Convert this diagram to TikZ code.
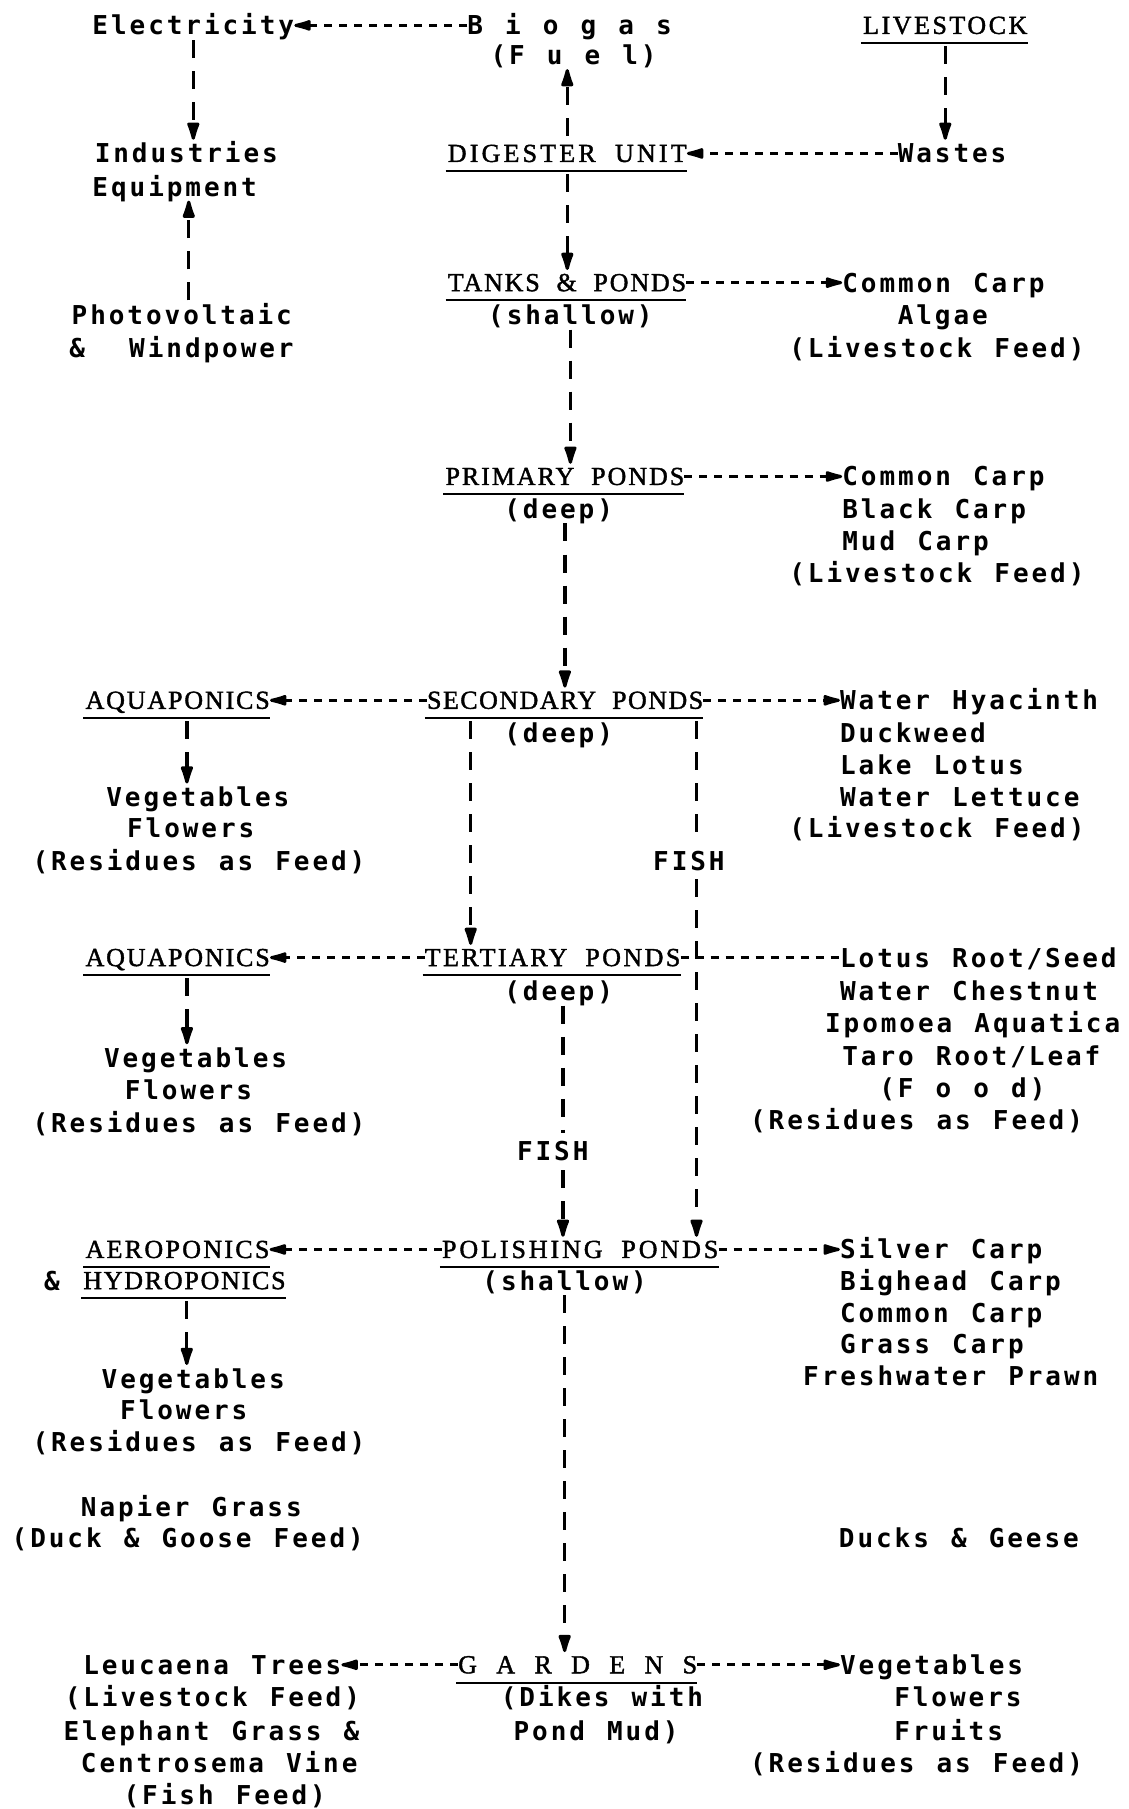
\documentclass[tikz,border=0pt]{standalone}
\usepackage{fontspec}
\usetikzlibrary{arrows.meta,calc}
\newfontfamily\bodyfont[LetterSpace=11.3,WordSpace=1.188]{DejaVu Sans Mono}
\newfontfamily\headfont[WordSpace=2.0,FakeBold=1.5]{Liberation Serif}
\newcommand\headtxt[2]{{\addfontfeature{LetterSpace=#1}#2}}
\begin{document}
\begin{tikzpicture}[x=1.1534pt,y=-1.1534pt,
  bt/.style={font=\bodyfont\bfseries\fontsize{26}{30}\selectfont,inner sep=0pt,anchor=west,text height=19pt,text depth=0pt},
  ht/.style={font=\headfont\fontsize{26}{30}\selectfont,inner sep=0pt,anchor=west,text height=17pt,text depth=0pt},
  hl/.style={line width=3pt,dash pattern=on 8pt off 7pt},
  vl/.style={line width=3.2pt,dash pattern=on 18pt off 13pt,shorten <=5pt,shorten >=4pt},
  ha/.style={-{Latex[length=24pt,width=12pt,round]}},
  va/.style={-{Latex[length=24pt,width=14pt,round]}},
  ul/.style={line width=2pt}]
\fill[white] (0,0) rectangle (978,1568);
\useasboundingbox (0,0) rectangle (978,1568);
% top
\node[bt] (elec) at (80,22) {Electricity};
\node[bt] (bio) at (405,22) {B i o g a s};
\node[bt] (fuel) at (425,48) {(F u e l)};
\node[ht] (live) at (748,22) {\headtxt{9.7}{LIVESTOCK}};
\node[bt] (ind) at (82,133) {Industries};
\node[bt] (equip) at (80,162) {Equipment};
\node[ht] (dig) at (388,133) {\headtxt{12.2}{DIGESTER UNIT}};
\node[bt] (waste) at (778,133) {Wastes};
\node[ht] (tanks) at (388,245) {\headtxt{7.1}{TANKS \& PONDS}};
\node[bt] (cc1) at (730,245) {Common Carp};
\node[bt] (shal1) at (423,273) {(shallow)};
\node[bt] (algae) at (778,273) {Algae};
\node[bt] (pv) at (62,273) {Photovoltaic};
\node[bt] (wind) at (60,302) {\&\ \ Windpower};
\node[bt] (lf1) at (684,302) {(Livestock Feed)};
% primary
\node[ht] (prim) at (386,413) {\headtxt{7.5}{PRIMARY PONDS}};
\node[bt] (cc2) at (730,413) {Common Carp};
\node[bt] (deep1) at (437,441) {(deep)};
\node[bt] (black) at (730,441) {Black Carp};
\node[bt] (mud) at (730,469) {Mud Carp};
\node[bt] (lf2) at (684,497) {(Livestock Feed)};
% secondary
\node[ht] (aqua1) at (74,607) {\headtxt{7.1}{AQUAPONICS}};
\node[ht] (sec) at (370,607) {\headtxt{5.6}{SECONDARY PONDS}};
\node[bt] (wh) at (728,607) {Water Hyacinth};
\node[bt] (sdeep) at (437,635) {(deep)};
\node[bt] (duck) at (728,635) {Duckweed};
\node[bt] (lake) at (728,663) {Lake Lotus};
\node[bt] (lett) at (728,691) {Water Lettuce};
\node[bt] (lf3) at (684,718) {(Livestock Feed)};
\node[bt] (veg1) at (92,691) {Vegetables};
\node[bt] (fl1) at (110,718) {Flowers};
\node[bt] (res1) at (28,746) {(Residues as Feed)};
\node[bt] (fish1) at (566,746) {FISH};
% tertiary
\node[ht] (aqua2) at (74,830) {\headtxt{7.1}{AQUAPONICS}};
\node[ht] (ter) at (368,830) {\headtxt{9.4}{TERTIARY PONDS}};
\node[bt] (lotus) at (728,830) {Lotus Root/Seed};
\node[bt] (tdeep) at (437,859) {(deep)};
\node[bt] (chest) at (728,859) {Water Chestnut};
\node[bt] (ipo) at (715,887) {Ipomoea Aquatica};
\node[bt] (taro) at (730,915) {Taro Root/Leaf};
\node[bt] (food) at (762,943) {(F o o d)};
\node[bt] (res2) at (650,971) {(Residues as Feed)};
\node[bt] (veg2) at (90,917) {Vegetables};
\node[bt] (fl2) at (108,945) {Flowers};
\node[bt] (res2l) at (28,973) {(Residues as Feed)};
\node[bt] (fish2) at (448,998) {FISH};
% polishing
\node[ht] (aero) at (74,1083) {\headtxt{8.8}{AEROPONICS}};
\node[ht] (pol) at (383,1083) {\headtxt{11.2}{POLISHING PONDS}};
\node[bt] (silver) at (728,1083) {Silver Carp};
\node[bt] (amp) at (38,1110) {\&};
\node[ht] (hydro) at (72,1110) {\headtxt{6.7}{HYDROPONICS}};
\node[bt] (shal3) at (418,1110) {(shallow)};
\node[bt] (big) at (728,1110) {Bighead Carp};
\node[bt] (cc3) at (728,1138) {Common Carp};
\node[bt] (grass) at (728,1165) {Grass Carp};
\node[bt] (prawn) at (696,1193) {Freshwater Prawn};
\node[bt] (veg3) at (88,1195) {Vegetables};
\node[bt] (fl3) at (104,1222) {Flowers};
\node[bt] (res3) at (28,1250) {(Residues as Feed)};
\node[bt] (napier) at (70,1306) {Napier Grass};
\node[bt] (dgf) at (10,1333) {(Duck \& Goose Feed)};
\node[bt] (dg) at (727,1333) {Ducks \& Geese};
% gardens
\node[bt] (leuc) at (72,1443) {Leucaena Trees};
\node[ht] (gard) at (397,1443) {\headtxt{12.2}{G A R D E N S}};
\node[bt] (veg4) at (728,1443) {Vegetables};
\node[bt] (lf4) at (56,1471) {(Livestock Feed)};
\node[bt] (dikes) at (434,1471) {(Dikes with};
\node[bt] (fl4) at (775,1471) {Flowers};
\node[bt] (eleph) at (55,1500) {Elephant Grass \&};
\node[bt] (pmud) at (445,1500) {Pond Mud)};
\node[bt] (fruits) at (775,1500) {Fruits};
\node[bt] (cent) at (70,1528) {Centrosema Vine};
\node[bt] (res4) at (650,1528) {(Residues as Feed)};
\node[bt] (fishf) at (107,1556) {(Fish Feed)};
% underlines
\foreach \n in {live,dig,tanks,prim,aqua1,sec,aqua2,ter,aero,pol,hydro,gard}
  \draw[ul] ([yshift=-9pt,xshift=-2pt]\n.south west) -- ([yshift=-9pt]\n.south east);
% connectors
\draw[hl,ha] (bio.west) -- (elec.east);
\draw[vl,va] (elec.south) -- (elec.south |- ind.north);
\draw[vl,va,shorten <=9pt] (dig.north) -- (dig.north |- fuel.south);
\draw[vl,va,shorten <=12pt] (live.south) -- (live.south |- waste.north);
\draw[hl,ha] (waste.west) -- (dig.east);
\coordinate (pvx) at ($(pv.north)+(6,0)$);
\draw[vl,va] (pvx) -- (pvx |- equip.south);
\draw[vl,va,shorten <=12pt] (dig.south) -- (dig.south |- tanks.north);
\draw[hl,ha] (tanks.east) -- (cc1.west);
\draw[vl,va] (shal1.south) -- (shal1.south |- prim.north);
\draw[hl,ha] (prim.east) -- (cc2.west);
\draw[vl,va] (prim.south |- deep1.south) -- (prim.south |- sec.north);
\draw[hl,ha] (sec.west) -- (aqua1.east);
\draw[hl,ha] (sec.east) -- (wh.west);
\coordinate (a1) at ($(aqua1.south)+(8,0)$);
\draw[vl,va,shorten <=12pt] (a1) -- (a1 |- veg1.north);
\coordinate (sl) at ($(sec.south west)+(38,0)$);
\draw[vl,va,shorten <=12pt] (sl) -- (sl |- ter.north);
\coordinate (sr) at ($(sec.south east)+(-6,0)$);
\draw[vl,shorten <=12pt,shorten >=9pt] (sr) -- (sr |- fish1.north);
\draw[vl,va,shorten <=9pt] (sr |- fish1.south) -- (sr |- pol.north);
\draw[hl,ha] (ter.west) -- (aqua2.east);
\draw[hl] (ter.east) -- (lotus.west);
\coordinate (a2) at ($(aqua2.south)+(8,0)$);
\draw[vl,va,shorten <=12pt] (a2) -- (a2 |- veg2.north);
\coordinate (tx) at ($(tdeep.south -| ter.south)+(9,0)$);
\draw[vl,shorten >=9pt] (tx) -- (tx |- fish2.north);
\draw[vl,va,shorten <=9pt] (tx |- fish2.south) -- (tx |- pol.north);
\draw[hl,ha] (pol.west) -- (aero.east);
\draw[hl,ha] (pol.east) -- (silver.west);
\coordinate (a3) at ($(hydro.south)+(2,0)$);
\draw[vl,va,shorten <=12pt] (a3) -- (a3 |- veg3.north);
\draw[vl,va] (shal3.south) -- (shal3.south |- gard.north);
\draw[hl,ha] (gard.west) -- (leuc.east);
\draw[hl,ha] (gard.east) -- (veg4.west);
\end{tikzpicture}
\end{document}
